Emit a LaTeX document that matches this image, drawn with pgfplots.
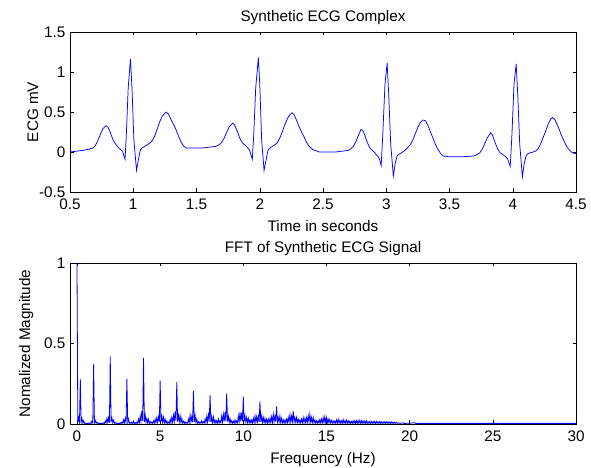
\documentclass[border=0pt]{standalone}
\usepackage{fontspec}
\setmainfont{Liberation Sans}
\usepackage{pgfplots}
\pgfplotsset{compat=1.18}

\definecolor{mblue}{RGB}{0,0,255}

\pgfplotsset{
  matlab/.style={
    scale only axis,
    axis line style={black, line width=0.6pt},
    tick style={black, line width=0.5pt},
    tick align=inside,
    major tick length=3.5bp,
    xtick pos=both, ytick pos=both,
    /pgf/number format/assume math mode=true,
    tick label style={font=\fontsize{15.3bp}{18bp}\selectfont},
    label style={font=\fontsize{15.3bp}{18bp}\selectfont},
    title style={font=\fontsize{15.3bp}{18bp}\selectfont},
    xticklabel style={yshift=-3bp},
    yticklabel style={xshift=-1bp},
  }
}

\begin{document}
\begin{tikzpicture}[x=1bp,y=1bp]
\path[use as bounding box] (0,0) rectangle (591,468);

% ECG time series
\begin{axis}[matlab,
  at={(70bp,276bp)}, anchor=south west,
  width=506bp, height=160bp,
  xmin=0.5, xmax=4.5, ymin=-0.5, ymax=1.5,
  xtick={0.5,1,...,4.5}, ytick={-0.5,0,0.5,1,1.5},
  title={Synthetic ECG Complex},
  xlabel={Time in seconds},
  ylabel={ECG mV},
  title style={yshift=-2bp},
  xlabel style={yshift=-4bp},
  ylabel style={yshift=-6bp},
]
\addplot[mblue, line width=0.75pt] coordinates {
(0.50,0.00) (0.55,0.01) (0.60,0.02) (0.65,0.035) (0.68,0.05) (0.70,0.08) (0.72,0.14) (0.74,0.22) (0.76,0.29) (0.785,0.33) (0.80,0.31) (0.82,0.24) (0.84,0.15) (0.86,0.10) (0.88,0.06) (0.90,0.03) (0.915,0.01) (0.935,-0.09)
(0.945,0.20) (0.96,0.80) (0.978,1.16) (0.99,0.80) (1.005,0.15) (1.026,-0.23) (1.04,-0.10) (1.055,0.02) (1.07,0.05) (1.09,0.07) (1.11,0.09) (1.13,0.11) (1.15,0.14) (1.17,0.20) (1.19,0.29) (1.21,0.38) (1.23,0.45) (1.26,0.50) (1.28,0.47) (1.30,0.40) (1.33,0.31) (1.36,0.19) (1.38,0.12) (1.40,0.07) (1.42,0.05)
(1.50,0.05) (1.55,0.05) (1.60,0.06) (1.65,0.07) (1.68,0.09) (1.70,0.12) (1.72,0.18) (1.74,0.25) (1.76,0.32) (1.786,0.36) (1.80,0.34) (1.82,0.27) (1.84,0.18) (1.86,0.12) (1.88,0.09) (1.90,0.06) (1.92,0.02) (1.941,-0.09)
(1.952,0.20) (1.968,0.80) (1.989,1.18) (2.00,0.85) (2.015,0.15) (2.034,-0.23) (2.05,-0.10) (2.065,0.02) (2.08,0.05) (2.10,0.07) (2.12,0.09) (2.14,0.12) (2.16,0.18) (2.18,0.26) (2.20,0.35) (2.22,0.42) (2.24,0.47) (2.255,0.49) (2.27,0.47) (2.29,0.40) (2.31,0.32) (2.33,0.25) (2.35,0.19) (2.37,0.12) (2.39,0.07) (2.42,0.03) (2.47,0.00)
(2.55,0.00) (2.60,0.00) (2.65,0.01) (2.70,0.02) (2.72,0.04) (2.74,0.07) (2.76,0.13) (2.78,0.21) (2.80,0.28) (2.815,0.27) (2.83,0.21) (2.85,0.12) (2.87,0.05) (2.89,0.02) (2.91,-0.01) (2.93,-0.05) (2.945,-0.08) (2.96,-0.17)
(2.972,0.20) (2.99,0.85) (3.007,1.11) (3.02,0.70) (3.035,0.10) (3.056,-0.30) (3.07,-0.15) (3.085,-0.05) (3.10,-0.03) (3.12,-0.01) (3.14,0.01) (3.16,0.04) (3.19,0.09) (3.21,0.15) (3.23,0.23) (3.25,0.31) (3.27,0.37) (3.29,0.40) (3.31,0.39) (3.33,0.33) (3.35,0.25) (3.37,0.17) (3.39,0.09) (3.41,0.03) (3.43,-0.02) (3.45,-0.05) (3.50,-0.06) (3.60,-0.06) (3.69,-0.05)
(3.72,-0.03) (3.74,-0.01) (3.76,0.04) (3.78,0.11) (3.80,0.18) (3.826,0.24) (3.84,0.21) (3.86,0.12) (3.88,0.04) (3.90,-0.01) (3.92,-0.03) (3.945,-0.06) (3.96,-0.09) (3.98,-0.18)
(3.993,0.20) (4.01,0.85) (4.027,1.10) (4.04,0.70) (4.055,0.10) (4.076,-0.31) (4.09,-0.15) (4.105,-0.05) (4.12,-0.02) (4.14,-0.01) (4.16,0.00) (4.18,0.01) (4.20,0.04) (4.22,0.10) (4.24,0.18) (4.26,0.26) (4.28,0.35) (4.30,0.41) (4.315,0.43) (4.33,0.41) (4.35,0.35) (4.37,0.27) (4.39,0.19) (4.41,0.12) (4.43,0.06) (4.45,0.02) (4.47,-0.01) (4.50,-0.02)
};
\end{axis}

% FFT magnitude
\begin{axis}[matlab,
  at={(70bp,44bp)}, anchor=south west,
  width=506bp, height=161bp,
  xmin=-0.42, xmax=30, ymin=0, ymax=1,
  xtick={0,5,...,30}, ytick={0,0.5,1},
  title={FFT of Synthetic ECG Signal},
  xlabel={Frequency (Hz)},
  ylabel={Nomalized Magnitude},
  title style={yshift=-2bp},
  xlabel style={yshift=-4bp},
  ylabel style={yshift=4bp},
]
\addplot[mblue, line width=0.8pt] coordinates {
(0,1) (0.05,0.01) (0.1,0.04) (0.15,0.012) (0.2,0.28) (0.25,0.01) (0.3,0.035) (0.35,0.006) (0.4,0.02) (0.45,0.004)
(0.5,0.006) (0.55,0.002) (0.6,0.005) (0.65,0.002) (0.7,0.006) (0.75,0.003) (0.8,0.008) (0.85,0.003) (0.9,0.018) (0.95,0.006) (1.0,0.37) (1.05,0.008) (1.1,0.022) (1.15,0.005) (1.2,0.012) (1.25,0.003) (1.3,0.006) (1.35,0.002) (1.4,0.005) (1.45,0.002)
(1.5,0.005) (1.55,0.002) (1.6,0.008) (1.65,0.003) (1.7,0.02) (1.75,0.006) (1.8,0.035) (1.85,0.01) (1.9,0.04) (1.95,0.008) (2.0,0.42) (2.05,0.01) (2.1,0.038) (2.15,0.008) (2.2,0.025) (2.25,0.005) (2.3,0.01) (2.35,0.003) (2.4,0.006) (2.45,0.002)
(2.5,0.005) (2.55,0.002) (2.6,0.008) (2.65,0.003) (2.7,0.012) (2.75,0.004) (2.8,0.026) (2.85,0.006) (2.9,0.035) (2.95,0.008) (3.0,0.28) (3.05,0.008) (3.1,0.03) (3.15,0.005) (3.2,0.01) (3.25,0.003) (3.3,0.012) (3.35,0.004) (3.4,0.018) (3.45,0.003)
(3.5,0.008) (3.55,0.003) (3.6,0.012) (3.65,0.004) (3.7,0.03) (3.75,0.008) (3.8,0.05) (3.85,0.015) (3.9,0.082) (3.95,0.02) (4.0,0.41) (4.05,0.012) (4.1,0.055) (4.15,0.01) (4.2,0.035) (4.25,0.006) (4.3,0.03) (4.35,0.005) (4.4,0.015) (4.45,0.004)
(4.5,0.012) (4.55,0.004) (4.6,0.02) (4.65,0.005) (4.7,0.03) (4.75,0.008) (4.8,0.04) (4.85,0.01) (4.9,0.045) (4.95,0.012) (5.0,0.27) (5.05,0.012) (5.1,0.05) (5.15,0.01) (5.2,0.042) (5.25,0.006) (5.3,0.03) (5.35,0.005) (5.4,0.02) (5.45,0.004)
(5.5,0.012) (5.55,0.004) (5.6,0.03) (5.65,0.006) (5.7,0.04) (5.75,0.01) (5.8,0.055) (5.85,0.015) (5.9,0.078) (5.95,0.02) (6.0,0.26) (6.05,0.015) (6.1,0.065) (6.15,0.012) (6.2,0.05) (6.25,0.008) (6.3,0.035) (6.35,0.006) (6.4,0.018) (6.45,0.004)
(6.5,0.014) (6.55,0.004) (6.6,0.01) (6.65,0.005) (6.7,0.03) (6.75,0.008) (6.8,0.056) (6.85,0.012) (6.9,0.045) (6.95,0.01) (7.0,0.205) (7.05,0.012) (7.1,0.055) (7.15,0.008) (7.2,0.03) (7.25,0.005) (7.3,0.015) (7.35,0.004) (7.4,0.012) (7.45,0.004)
(7.5,0.02) (7.55,0.005) (7.6,0.015) (7.65,0.006) (7.7,0.03) (7.75,0.008) (7.8,0.045) (7.85,0.012) (7.9,0.07) (7.95,0.015) (8.0,0.18) (8.05,0.012) (8.1,0.045) (8.15,0.008) (8.2,0.042) (8.25,0.007) (8.3,0.025) (8.35,0.005) (8.4,0.02) (8.45,0.005)
(8.5,0.03) (8.55,0.006) (8.6,0.02) (8.65,0.008) (8.7,0.05) (8.75,0.01) (8.8,0.06) (8.85,0.015) (8.9,0.075) (8.95,0.02) (9.0,0.19) (9.05,0.015) (9.1,0.05) (9.15,0.01) (9.2,0.035) (9.25,0.006) (9.3,0.02) (9.35,0.005) (9.4,0.018) (9.45,0.005)
(9.5,0.025) (9.55,0.006) (9.6,0.02) (9.65,0.008) (9.7,0.05) (9.75,0.012) (9.8,0.075) (9.85,0.015) (9.9,0.07) (9.95,0.018) (10.0,0.17) (10.05,0.015) (10.1,0.05) (10.15,0.01) (10.2,0.04) (10.25,0.008) (10.3,0.035) (10.35,0.006) (10.4,0.025) (10.45,0.006)
(10.5,0.025) (10.55,0.006) (10.6,0.035) (10.65,0.008) (10.7,0.05) (10.75,0.01) (10.8,0.045) (10.85,0.012) (10.9,0.05) (10.95,0.014) (11.0,0.14) (11.05,0.012) (11.1,0.05) (11.15,0.01) (11.2,0.04) (11.25,0.008) (11.3,0.035) (11.35,0.007) (11.4,0.03) (11.45,0.006)
(11.5,0.03) (11.55,0.007) (11.6,0.035) (11.65,0.008) (11.7,0.045) (11.75,0.01) (11.8,0.06) (11.85,0.012) (11.9,0.05) (11.95,0.014) (12.0,0.11) (12.05,0.012) (12.1,0.04) (12.15,0.01) (12.2,0.05) (12.25,0.008) (12.3,0.035) (12.35,0.007) (12.4,0.025) (12.45,0.006)
(12.5,0.025) (12.55,0.006) (12.6,0.03) (12.65,0.008) (12.7,0.04) (12.75,0.01) (12.8,0.056) (12.85,0.012) (12.9,0.05) (12.95,0.014) (13.0,0.08) (13.05,0.012) (13.1,0.04) (13.15,0.01) (13.2,0.04) (13.25,0.008) (13.3,0.03) (13.35,0.007) (13.4,0.025) (13.45,0.006)
(13.5,0.03) (13.55,0.007) (13.6,0.04) (13.65,0.008) (13.7,0.035) (13.75,0.008) (13.8,0.04) (13.85,0.01) (13.9,0.05) (13.95,0.012) (14.0,0.062) (14.05,0.01) (14.1,0.04) (14.15,0.009) (14.2,0.04) (14.25,0.007) (14.3,0.025) (14.35,0.006) (14.4,0.02) (14.45,0.005)
(14.5,0.02) (14.55,0.005) (14.6,0.028) (14.65,0.006) (14.7,0.03) (14.75,0.007) (14.8,0.04) (14.85,0.008) (14.9,0.045) (14.95,0.008) (15.0,0.04) (15.05,0.007) (15.1,0.03) (15.15,0.006) (15.2,0.028) (15.25,0.005) (15.3,0.022) (15.35,0.005) (15.4,0.02) (15.45,0.005)
(15.5,0.018) (15.55,0.005) (15.6,0.025) (15.65,0.005) (15.7,0.03) (15.75,0.005) (15.8,0.022) (15.85,0.005) (15.9,0.02) (15.95,0.005) (16.0,0.028) (16.05,0.005) (16.1,0.02) (16.15,0.005) (16.2,0.024) (16.25,0.004) (16.3,0.02) (16.35,0.004) (16.4,0.018) (16.45,0.004)
(16.5,0.016) (16.55,0.004) (16.6,0.02) (16.65,0.004) (16.7,0.02) (16.75,0.004) (16.8,0.02) (16.85,0.004) (16.9,0.021) (16.95,0.004) (17.0,0.022) (17.05,0.004) (17.1,0.02) (17.15,0.004) (17.2,0.019) (17.25,0.004) (17.3,0.018) (17.35,0.004) (17.4,0.02) (17.45,0.004)
(17.5,0.015) (17.55,0.004) (17.6,0.016) (17.65,0.004) (17.7,0.015) (17.75,0.004) (17.8,0.016) (17.85,0.004) (17.9,0.015) (17.95,0.004) (18.0,0.016) (18.05,0.004) (18.1,0.014) (18.15,0.004) (18.2,0.015) (18.25,0.004) (18.3,0.014) (18.35,0.004) (18.4,0.013) (18.45,0.004)
(18.5,0.013) (18.55,0.004) (18.6,0.014) (18.65,0.004) (18.7,0.013) (18.75,0.004) (18.8,0.012) (18.85,0.004) (18.9,0.013) (18.95,0.004) (19.0,0.012) (19.05,0.004) (19.1,0.011) (19.15,0.004) (19.2,0.01) (19.25,0.004) (19.3,0.007) (19.35,0.004) (19.4,0.006) (19.45,0.004)
(19.5,0.005) (19.6,0.008) (19.65,0.004) (19.8,0.004) (20.0,0.005) (20.3,0.008) (20.35,0.004) (21,0.004) (22,0.004) (23,0.004) (24,0.004) (25,0.004) (26,0.004) (27,0.004) (28,0.004) (29,0.004) (30,0.004)
};
\end{axis}
\end{tikzpicture}
\end{document}
